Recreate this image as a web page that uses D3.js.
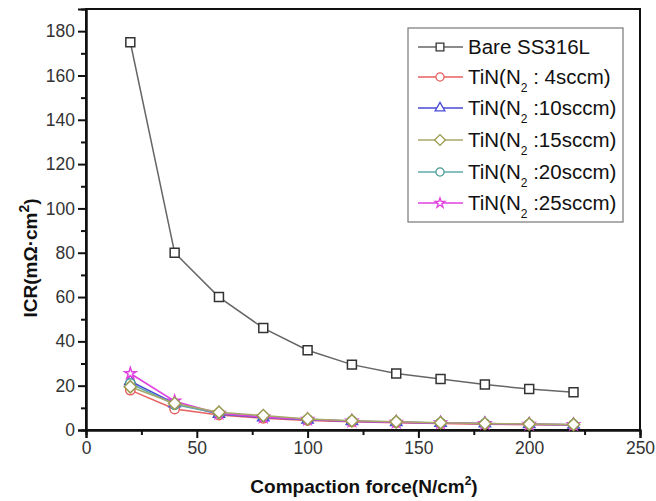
<!DOCTYPE html>
<html>
<head>
<meta charset="utf-8">
<script src="https://cdn.jsdelivr.net/npm/d3@7"></script>
<style>
  body { margin: 0; background: #fff; }
  svg { font-family: "Liberation Sans", Arial, sans-serif; }
</style>
</head>
<body>
<svg id="chart" width="656" height="501"></svg>
<script>
// compaction force (N/cm2)
const forces = [20, 40, 60, 80, 100, 120, 140, 160, 180, 200, 220];
// ICR values (mOhm cm2)
const bare = [175, 80, 60, 46, 36, 29.5, 25.5, 23, 20.5, 18.5, 17];
const tin4 = [18, 9.5, 6.8, 5.3, 4.3, 3.7, 3.3, 2.9, 2.6, 2.4, 2.2];
const tin10 = [22, 12, 7.2, 5.6, 4.6, 4.0, 3.5, 3.2, 2.9, 2.6, 2.4];
const tin15 = [19.5, 12, 8, 6.5, 5, 4.2, 3.7, 3.3, 2.9, 2.7, 2.5];
const tin20 = [21, 11.5, 7.5, 6, 4.8, 4.1, 3.6, 3.2, 2.9, 2.6, 2.4];
const tin25 = [25.5, 13, 7.5, 5.8, 4.8, 4.0, 3.5, 3.2, 2.9, 2.6, 2.4];
const xTicks = [0, 50, 100, 150, 200, 250];
const yTicks = [0, 20, 40, 60, 80, 100, 120, 140, 160, 180];

const series = [
    { name: "Bare SS316L", values: bare, color: "#666", mark: "#333", shape: "square" },
    { name: "TiN(N", rest: " : 4sccm)", values: tin4, color: "#e86060", mark: "#e86060", shape: "circle" },
    { name: "TiN(N", rest: " :10sccm)", values: tin10, color: "#4a4ad8", mark: "#4a4ad8", shape: "triangle" },
    { name: "TiN(N", rest: " :15sccm)", values: tin15, color: "#a8a868", mark: "#9a9a50", shape: "diamond" },
    { name: "TiN(N", rest: " :20sccm)", values: tin20, color: "#5eaaaa", mark: "#4a9a9a", shape: "circle" },
    { name: "TiN(N", rest: " :25sccm)", values: tin25, color: "#e040e0", mark: "#e040e0", shape: "star" }
];

const svg = d3.select("#chart");
const x = d3.scaleLinear().domain([0, 250]).range([86, 640]);
const y = d3.scaleLinear().domain([0, 190]).range([430, 9]);

function symbolPath(shape, small) {
    const k = small ? 0.75 : 1;
    if (shape === "square") return d3.symbol(d3.symbolSquare, 80 * k)();
    if (shape === "circle") return d3.symbol(d3.symbolCircle, 70 * k)();
    if (shape === "triangle") return d3.symbol(d3.symbolTriangle, 55 * k)();
    if (shape === "diamond") return d3.symbol(d3.symbolSquare, 75 * k)();
    if (shape === "star") return d3.symbol(d3.symbolStar, 40 * k)();
}
function symbolRot(shape) { return shape === "diamond" ? " rotate(45)" : ""; }

// frame
svg.append("rect")
    .attr("x", x(0)).attr("y", y(190))
    .attr("width", x(250) - x(0)).attr("height", y(0) - y(190))
    .attr("fill", "none").attr("stroke", "#111").attr("stroke-width", 2);

// axes
svg.append("g")
    .attr("transform", `translate(${x(0)},0)`)
    .call(d3.axisLeft(y).tickValues(yTicks).tickSize(8).tickPadding(3));
svg.append("g")
    .attr("transform", `translate(${x(0)},0)`)
    .call(d3.axisLeft(y).tickValues(d3.range(10, 190, 20)).tickSize(5).tickFormat(""));
svg.append("g")
    .attr("transform", `translate(0,${y(0)})`)
    .call(d3.axisBottom(x).tickValues(xTicks).tickSize(8).tickPadding(4));
svg.append("g")
    .attr("transform", `translate(0,${y(0)})`)
    .call(d3.axisBottom(x).tickValues([25, 75, 125, 175, 225]).tickSize(5).tickFormat(""));

svg.selectAll(".domain").attr("stroke", "#111").attr("stroke-width", 2);
svg.selectAll(".tick line").attr("stroke", "#111").attr("stroke-width", 2);
svg.selectAll(".tick text").attr("fill", "#333").style("font-size", "17.5px");

// axis titles
const yt = svg.append("text")
    .attr("transform", "translate(37,258) rotate(-90)")
    .attr("text-anchor", "middle")
    .style("font-size", "19px").style("font-weight", "bold").attr("fill", "#111");
yt.append("tspan").text("ICR(m\u03A9\u00B7cm");
yt.append("tspan").attr("dy", -8).style("font-size", "14px").text("2");
yt.append("tspan").attr("dy", 8).text(")");

const xt = svg.append("text")
    .attr("x", 364).attr("y", 493)
    .attr("text-anchor", "middle")
    .style("font-size", "19px").style("font-weight", "bold").attr("fill", "#111");
xt.append("tspan").text("Compaction force(N/cm");
xt.append("tspan").attr("dy", -8).style("font-size", "12px").text("2");
xt.append("tspan").attr("dy", 8).text(")");

// lines and markers (15 sccm drawn last)
const order = [0, 1, 2, 4, 5, 3];
const line = d3.line().x((d, i) => x(forces[i])).y(d => y(d));
order.forEach(k => {
    const s = series[k];
    svg.append("path").datum(s.values)
        .attr("d", line).attr("fill", "none")
        .attr("stroke", s.color).attr("stroke-width", 1.5);
    svg.selectAll(null).data(s.values).enter().append("path")
        .attr("transform", (d, i) => `translate(${x(forces[i])},${y(d)})` + symbolRot(s.shape))
        .attr("d", symbolPath(s.shape))
        .attr("fill", "#fff").attr("stroke", s.mark).attr("stroke-width", 1.5);
});

// legend
const rows = [47, 77, 108, 140, 172, 203];
const lg = svg.append("g");
lg.append("rect")
    .attr("x", 408).attr("y", 28).attr("width", 215).attr("height", 194)
    .attr("fill", "#fff").attr("stroke", "#777").attr("stroke-width", 1.2);
series.forEach((s, i) => {
    const yy = rows[i];
    lg.append("line").attr("x1", 418).attr("x2", 463).attr("y1", yy).attr("y2", yy)
        .attr("stroke", s.color).attr("stroke-width", 1.5);
    lg.append("path")
        .attr("transform", `translate(440,${yy})` + symbolRot(s.shape))
        .attr("d", symbolPath(s.shape, true))
        .attr("fill", "#fff").attr("stroke", s.mark).attr("stroke-width", 1.3);
    const t = lg.append("text").attr("x", 468).attr("y", yy + 7)
        .style("font-size", "20.5px").attr("fill", "#111");
    t.append("tspan").text(s.name);
    if (s.rest) {
        t.append("tspan").attr("dy", 8).style("font-size", "12px").text("2");
        t.append("tspan").attr("dy", -8).text(s.rest);
    }
});
</script>
</body>
</html>
